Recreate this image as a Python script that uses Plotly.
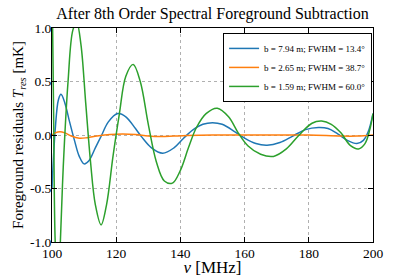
import plotly.graph_objects as go

blue_x = [100, 101, 102, 102.8, 104, 105.5, 107, 108.5, 110, 111.5, 113.5, 115.5, 117.5, 120.5, 123, 126, 128, 131, 134.5, 138, 141, 144, 147, 150, 153, 157, 160, 163.5, 167, 171, 175, 179, 183, 186, 189, 192, 195, 197, 198.5, 200]
blue_y = [-0.5, 0.05, 0.33, 0.38, 0.3, 0.12, -0.05, -0.2, -0.27, -0.24, -0.12, 0.0, 0.12, 0.2, 0.17, 0.06, -0.02, -0.12, -0.17, -0.12, -0.03, 0.05, 0.1, 0.115, 0.1, 0.03, -0.03, -0.08, -0.095, -0.07, -0.01, 0.05, 0.07, 0.06, 0.01, -0.05, -0.08, -0.05, 0.03, 0.2]

orange_x = [100, 101, 102.5, 104, 106, 108.5, 111, 114, 118, 122, 126, 130, 134, 138, 142, 150, 160, 170, 180, 190, 195, 200]
orange_y = [0.0, 0.02, 0.03, 0.02, -0.01, -0.03, -0.025, -0.01, 0.005, 0.01, 0.005, -0.01, -0.015, -0.01, -0.005, 0.0, 0.0, 0.0, 0.0, -0.01, -0.01, 0.0]

green_x = [100, 100.5, 101, 101.8, 102.6, 103.5, 105, 106.5, 107.7, 109, 110.5, 112, 113.5, 115.3, 117, 119, 121, 123, 125.3, 127.5, 130, 132.5, 135, 137.5, 140, 142.5, 145, 148, 151.5, 155, 158, 161, 165, 169, 173, 177, 181, 184, 187, 190, 193, 195.5, 197.5, 199, 200]
green_y = [1.5, 0.2, -1.0, -1.4, -1.0, -0.3, 0.5, 0.98, 1.05, 0.85, 0.3, -0.25, -0.65, -0.84, -0.65, -0.2, 0.2, 0.55, 0.66, 0.5, 0.1, -0.25, -0.43, -0.45, -0.33, -0.12, 0.07, 0.2, 0.25, 0.17, 0.02, -0.1, -0.18, -0.2, -0.13, 0.0, 0.11, 0.13, 0.1, 0.02, -0.1, -0.13, -0.08, 0.05, 0.2]

names = ["b = 7.94 m; FWHM = 13.4°", "b = 2.65 m; FWHM = 38.7°", "b = 1.59 m; FWHM = 60.0°"]
colors = ["#1f77b4", "#ff7f0e", "#2ca02c"]

x_ticks = [100, 120, 140, 160, 180, 200]
y_ticks = [-1.0, -0.5, 0.0, 0.5, 1.0]
y_ticklabels = ["-1.0", "-0.5", "0.0", "0.5", "1.0"]

fig = go.Figure()
for xs, ys, nm, c in [(blue_x, blue_y, names[0], colors[0]),
                      (orange_x, orange_y, names[1], colors[1]),
                      (green_x, green_y, names[2], colors[2])]:
    fig.add_trace(go.Scatter(x=xs, y=ys, mode="lines", name=nm,
                             line=dict(color=c, width=1.5, shape="spline", smoothing=1.0)))

serif = "Liberation Serif, Times New Roman, serif"
axis_common = dict(showline=True, linecolor="black", linewidth=1, mirror="ticks",
                   ticks="inside", ticklen=5, tickcolor="black", showgrid=True,
                   gridcolor="#b0b0b0", griddash="dot", gridwidth=1, zeroline=False,
                   automargin=False,
                   tickfont=dict(family=serif, size=13.5, color="black"))

fig.update_layout(
    width=415, height=277,
    margin=dict(l=52, r=42, t=28, b=35),
    paper_bgcolor="white", plot_bgcolor="white",
    title=dict(text="After 8th Order Spectral Foreground Subtraction",
               x=0.512, xanchor="center", y=0.952, yanchor="middle",
               font=dict(family=serif, size=16, color="black")),
    xaxis=dict(range=[100, 200], tickvals=x_ticks, ticklabelstandoff=-1,
               title=dict(text="<i>ν</i> [MHz]", standoff=0,
                          font=dict(family=serif, size=17, color="black")),
               **axis_common),
    yaxis=dict(range=[-1.0, 1.0], tickvals=y_ticks, ticktext=y_ticklabels, ticklabelstandoff=-3,
               title=dict(text="Foreground residuals <i>T</i><sub><i>res</i></sub> [mK]", standoff=2,
                          font=dict(family=serif, size=15, color="black")),
               **axis_common),
    legend=dict(x=0.533, y=0.977, xanchor="left", yanchor="top",
                bgcolor="white", bordercolor="black", borderwidth=1,
                font=dict(family=serif, size=9, color="black"),
                itemwidth=30, tracegroupgap=0),
    showlegend=True,
)

fig.write_html("out.html", config={"displayModeBar": False},
               post_script="document.body.style.margin='0';")
